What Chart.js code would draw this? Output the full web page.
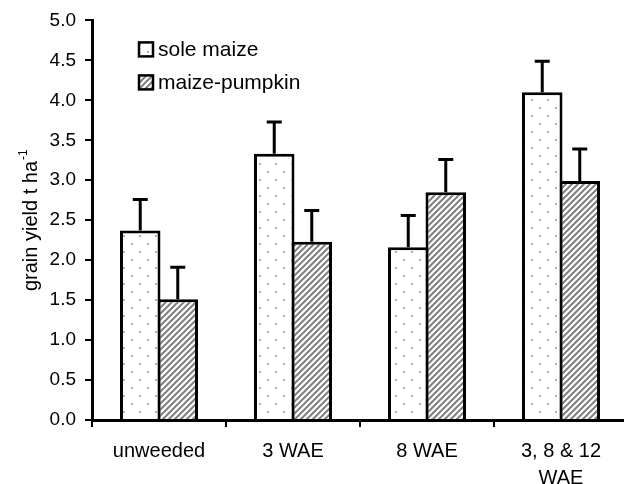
<!DOCTYPE html>
<html>
<head>
<meta charset="utf-8">
<script src="https://cdn.jsdelivr.net/npm/chart.js@4.4.1/dist/chart.umd.min.js"></script>
<style>
  html, body { margin: 0; padding: 0; background: #fff; overflow: hidden; }
  #wrap { width: 624px; height: 484px; overflow: hidden; }
</style>
</head>
<body>
<div id="wrap"><canvas id="chart" width="632" height="484"></canvas></div>
<script>
// data
const categories = ['unweeded', '3 WAE', '8 WAE', ['3, 8 & 12', 'WAE']];
const seriesNames = ['sole maize', 'maize-pumpkin'];
const soleMaize = [2.37, 3.33, 2.16, 4.10];
const soleMaizeErr = [0.39, 0.40, 0.40, 0.39];
const maizePumpkin = [1.51, 2.23, 2.85, 2.99];
const maizePumpkinErr = [0.40, 0.39, 0.41, 0.40];
const yTicks = [0, 0.5, 1, 1.5, 2, 2.5, 3, 3.5, 4, 4.5, 5];

const FONT = 'Liberation Sans, Arial, sans-serif';

// fill patterns
function dotPattern() {
    const c = document.createElement('canvas');
    c.width = 16; c.height = 16;
    const g = c.getContext('2d');
    g.fillStyle = '#fff';
    g.fillRect(0, 0, 16, 16);
    g.fillStyle = '#b0b0b0';
    g.fillRect(3, 3, 2, 2);
    g.fillRect(11, 11, 2, 2);
    return g.createPattern(c, 'repeat');
}

function hatchPattern() {
    const c = document.createElement('canvas');
    c.width = 6; c.height = 6;
    const g = c.getContext('2d');
    g.fillStyle = '#fff';
    g.fillRect(0, 0, 6, 6);
    g.strokeStyle = '#808080';
    g.lineWidth = 2;
    g.beginPath();
    g.moveTo(-1, 7); g.lineTo(7, -1);
    g.moveTo(-4, 4); g.lineTo(4, -4);
    g.moveTo(2, 10); g.lineTo(10, 2);
    g.stroke();
    return g.createPattern(c, 'repeat');
}

const fills = [dotPattern(), hatchPattern()];

// error bars drawn through the y scale
const errorBars = {
    id: 'errorBars',
    afterDatasetsDraw(chart) {
        const ctx = chart.ctx;
        const y = chart.scales.y;
        ctx.save();
        ctx.strokeStyle = '#000';
        ctx.lineWidth = 3;
        chart.data.datasets.forEach((ds, i) => {
            chart.getDatasetMeta(i).data.forEach((bar, j) => {
                const top = y.getPixelForValue(ds.data[j] + ds.errors[j]);
                ctx.beginPath();
                ctx.moveTo(bar.x, bar.y);
                ctx.lineTo(bar.x, top);
                ctx.moveTo(bar.x - 7.5, top);
                ctx.lineTo(bar.x + 7.5, top);
                ctx.stroke();
            });
        });
        ctx.restore();
    }
};

// legend inside the plot, stacked
const boxLegend = {
    id: 'boxLegend',
    afterDraw(chart) {
        const ctx = chart.ctx;
        const left = chart.chartArea.left + 47;
        ctx.save();
        ctx.font = '21px ' + FONT;
        ctx.textBaseline = 'middle';
        chart.data.datasets.forEach((ds, i) => {
            const cy = chart.chartArea.top + 29 + i * 33;
            ctx.fillStyle = ds.backgroundColor;
            ctx.fillRect(left, cy - 7, 14, 14);
            ctx.strokeStyle = '#000';
            ctx.lineWidth = 2.5;
            ctx.strokeRect(left, cy - 7, 14, 14);
            ctx.fillStyle = '#000';
            ctx.fillText(ds.label, left + 19, cy + 1);
        });
        ctx.restore();
    }
};

// y axis title with superscript, centred on the plot height
const yTitle = {
    id: 'yTitle',
    afterDraw(chart) {
        const ctx = chart.ctx;
        const area = chart.chartArea;
        const main = 'grain yield t ha';
        const sup = '-1';
        ctx.save();
        ctx.font = '20px ' + FONT;
        const w1 = ctx.measureText(main).width;
        ctx.font = '12px ' + FONT;
        const w2 = ctx.measureText(sup).width;
        const total = w1 + 1 + w2;
        ctx.translate(37, (area.top + area.bottom) / 2 + total / 2);
        ctx.rotate(-Math.PI / 2);
        ctx.fillStyle = '#000';
        ctx.textBaseline = 'alphabetic';
        ctx.font = '20px ' + FONT;
        ctx.fillText(main, 0, 0);
        ctx.font = '12px ' + FONT;
        ctx.fillText(sup, w1 + 1, -10);
        ctx.restore();
    }
};

new Chart(document.getElementById('chart'), {
    type: 'bar',
    data: {
        labels: categories,
        datasets: [
            { label: seriesNames[0], data: soleMaize, errors: soleMaizeErr, backgroundColor: fills[0] },
            { label: seriesNames[1], data: maizePumpkin, errors: maizePumpkinErr, backgroundColor: fills[1] }
        ]
    },
    options: {
        responsive: false,
        animation: false,
        layout: { padding: { top: 20, right: 4, left: 0, bottom: 0 } },
        datasets: {
            bar: {
                borderColor: '#000',
                borderWidth: 3,
                categoryPercentage: 0.56,
                barPercentage: 1.08
            }
        },
        scales: {
            x: {
                afterFit: s => { s.height = 64; },
                border: { color: '#000', width: 3 },
                grid: { offset: true, drawOnChartArea: false, tickLength: 7, color: '#000', lineWidth: 2 },
                ticks: { color: '#000', font: { family: FONT, size: 20, lineHeight: 1.35 }, padding: 11, maxRotation: 0 }
            },
            y: {
                min: 0,
                max: 5,
                afterBuildTicks: s => { s.ticks = yTicks.map(v => ({ value: v })); },
                afterFit: s => { s.width = 92; },
                border: { color: '#000', width: 3 },
                grid: { drawOnChartArea: false, tickLength: 7, color: '#000', lineWidth: 2 },
                ticks: { color: '#000', font: { family: FONT, size: 19 }, padding: 9, callback: v => v.toFixed(1) }
            }
        },
        plugins: {
            legend: { display: false },
            tooltip: { enabled: false }
        }
    },
    plugins: [errorBars, boxLegend, yTitle]
});
</script>
</body>
</html>
